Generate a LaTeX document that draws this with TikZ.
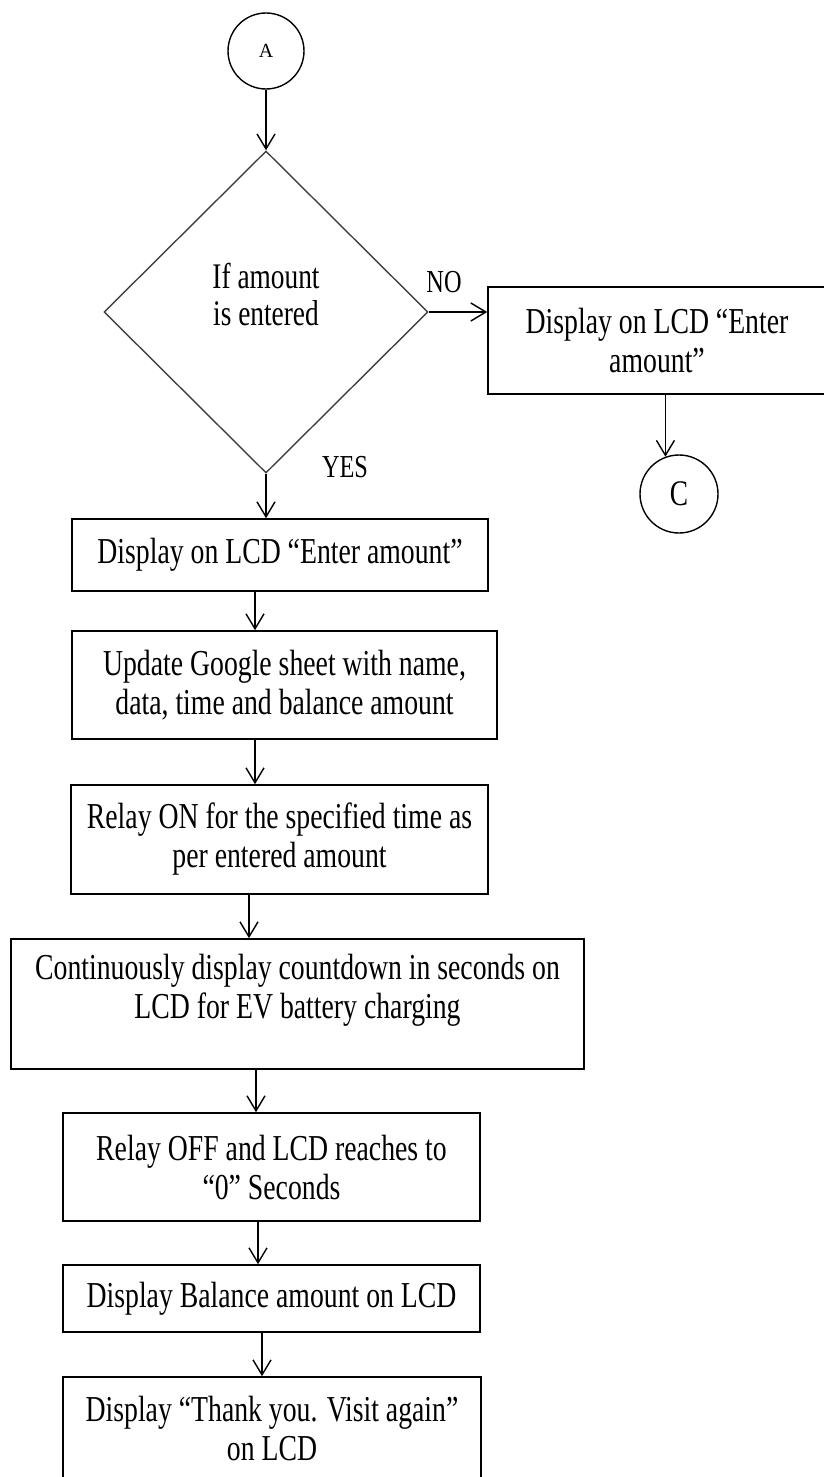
\documentclass[tikz,border=0pt]{standalone}
\usepackage{fontspec}
\setmainfont{Liberation Serif}[FakeStretch=0.76]
\newfontfamily\plainserif{Liberation Serif}
\usetikzlibrary{shapes.geometric,arrows.meta,calc}
\tikzset{
  box/.style={draw, line width=1.6pt, rectangle, inner sep=0pt, align=center,
    font=\fontsize{36.5}{39}\selectfont},
  conn/.style={draw, circle, line width=1.4pt, inner sep=0pt},
  decision/.style={draw=black!75, diamond, line width=1.4pt, inner sep=0pt, align=center,
    font=\fontsize{36}{37}\selectfont},
  arr/.style={line width=1.4pt, -{Straight Barb[length=15pt,width=18pt,line width=1.4pt]}},
  lbl/.style={font=\fontsize{32}{34}\selectfont, inner sep=0pt},
}
\begin{document}
\begin{tikzpicture}[x=1pt,y=-1pt]
\useasboundingbox (0,0) rectangle (823,1477);
\node[conn, minimum size=76pt, font=\plainserif\fontsize{20}{22}\selectfont] (A) at (266,51) {A};
\node[decision, minimum width=324pt, minimum height=322pt] (dia) at (266,312) {If amount\\is entered\\[-1pt]\mbox{}};
\node[box, minimum width=338pt, minimum height=107pt] (rbox) at (657,340.5) {Display on LCD “Enter\\amount”};
\node[conn, minimum size=78pt, font=\fontsize{36}{38}\selectfont] (C) at (679,494) {C};
\node[box, minimum width=416pt, minimum height=72pt] (b1) at (280,555) {Display on LCD “Enter amount”};
\node[box, minimum width=425pt, minimum height=108pt] (b2) at (284.5,685) {Update Google sheet with name,\\data, time and balance amount};
\node[box, minimum width=417pt, minimum height=109pt] (b3) at (279.5,839.5) {Relay ON for the specified time as\\per entered amount};
\node[box, minimum width=573pt, minimum height=130pt] (b4) at (297.5,1004) {Continuously display countdown in seconds on\\LCD for EV battery charging\\[-3pt]\mbox{}};
\node[box, minimum width=417pt, minimum height=108pt] (b5) at (271.5,1167) {Relay OFF and LCD reaches to\\“0” Seconds};
\node[box, minimum width=417pt, minimum height=67pt] (b6) at (271.5,1298.5) {Display Balance amount on LCD};
\node[box, minimum width=418pt, minimum height=103pt] (b7) at (272,1428.5) {Display “Thank you. Visit again”\\on LCD};
\node[lbl] (no) at (444,282) {NO};
\node[lbl] (yes) at (345,467) {YES};
\draw[arr] (A.south) -- (dia.north);
\draw[arr] (dia.east) -- (dia.east -| rbox.west);
\draw[arr] (C.110 |- rbox.south) -- (C.110);
\draw[arr] (dia.south) -- (dia.south |- b1.north);
\draw[arr] ([xshift=-25pt]b1.south) -- ([xshift=-29.5pt]b2.north);
\draw[arr] ([xshift=-29.5pt]b2.south) -- ([xshift=-24.5pt]b3.north);
\draw[arr] ([xshift=-30.5pt]b3.south) -- ([xshift=-48.5pt]b4.north);
\draw[arr] ([xshift=-41.5pt]b4.south) -- ([xshift=-15.5pt]b5.north);
\draw[arr] ([xshift=-13.5pt]b5.south) -- ([xshift=-13.5pt]b6.north);
\draw[arr] ([xshift=-9.5pt]b6.south) -- ([xshift=-10pt]b7.north);
\end{tikzpicture}
\end{document}
